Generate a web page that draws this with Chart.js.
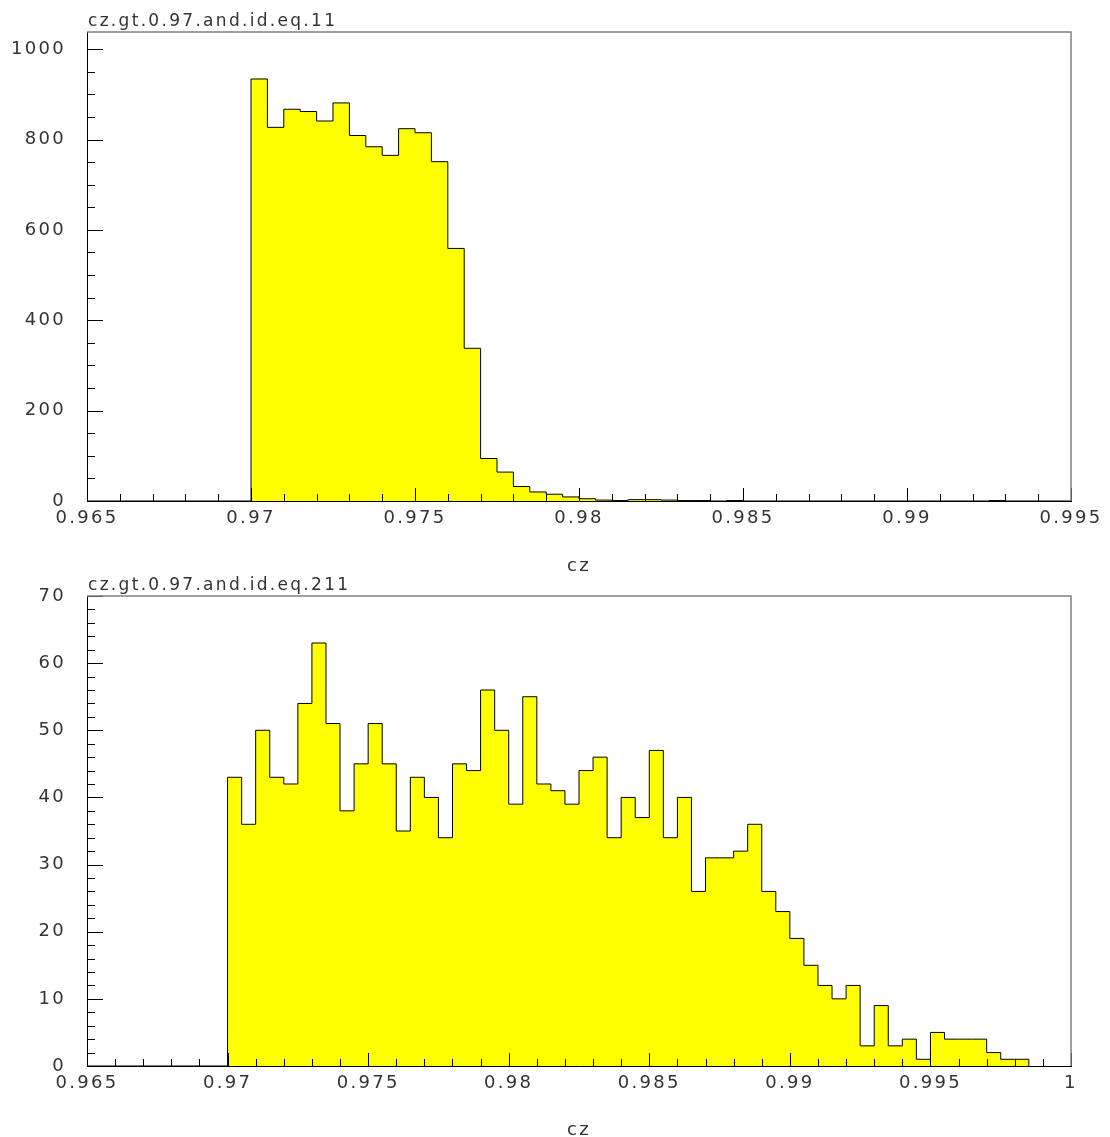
<!DOCTYPE html>
<html lang="en">
<head>
<meta charset="UTF-8">
<title>cz</title>
<script src="https://cdn.jsdelivr.net/npm/chart.js"></script>
<style>
  html, body { margin: 0; padding: 0; background: #fff; overflow: hidden; }
  canvas { display: block; position: absolute; left: 0; }
  #histo11 { top: 0; }
  #histo211 { top: 568px; }
</style>
</head>
<body>
<canvas id="histo11" width="1110" height="580"></canvas>
<canvas id="histo211" width="1110" height="573"></canvas>
<script>
// both histograms: bins of 0.0005 in cz, filled from cz = 0.97 upwards
const binWidth = 0.0005;
const firstEdge = 0.97;

// id 11
const counts11 = [934, 827, 867, 862, 841, 881, 809, 784, 765, 824,
                  815, 751, 559, 338, 94, 64, 32, 20, 15, 9,
                  5, 2, 1, 3, 3, 2, 1, 1, 0, 1,
                  0, 0, 0, 0, 0, 0, 0, 0, 0, 0,
                  0, 0, 0, 0, 0, 1, 0, 0, 0, 0];
const xTicks11 = [0.965, 0.97, 0.975, 0.98, 0.985, 0.99, 0.995];
const yTicks11 = [0, 200, 400, 600, 800, 1000];
const yMax11 = 1038;

// id 211
const counts211 = [43, 36, 50, 43, 42, 54, 63, 51, 38, 45,
                   51, 45, 35, 43, 40, 34, 45, 44, 56, 50,
                   39, 55, 42, 41, 39, 44, 46, 34, 40, 37,
                   47, 34, 40, 26, 31, 31, 32, 36, 26, 23,
                   19, 15, 12, 10, 12, 3, 9, 3, 4, 1,
                   5, 4, 4, 4, 2, 1, 1];
const xTicks211 = [0.965, 0.97, 0.975, 0.98, 0.985, 0.99, 0.995, 1];
const yTicks211 = [0, 10, 20, 30, 40, 50, 60, 70];
const yMax211 = 70;

Chart.defaults.font.family = "'DejaVu Sans', sans-serif";
Chart.defaults.font.size = 18;
Chart.defaults.color = '#333';

// outline points for a stepped line: left edge of each bin, closed back to zero
function histoPoints(counts, axisMin) {
    const pts = [{ x: axisMin, y: 0 }];
    counts.forEach((c, i) => pts.push({ x: firstEdge + i * binWidth, y: c }));
    pts.push({ x: firstEdge + counts.length * binWidth, y: 0 });
    return pts;
}

// inward tick marks, grey top/right frame and the histogram title
const framePlugin = {
    id: 'frame',
    beforeUpdate(chart) { chart.ctx.letterSpacing = '2.3px'; },
    beforeDraw(chart) { chart.ctx.letterSpacing = '2.3px'; },
    afterDatasetsDraw(chart, args, opts) {
        const { ctx, chartArea: a, scales: { x, y } } = chart;
        ctx.save();
        ctx.strokeStyle = '#000';
        ctx.lineWidth = 1;
        ctx.beginPath();
        for (let k = 0; ; k++) {
            const v = x.min + k * opts.xMinor;
            if (v > x.max + 1e-9) break;
            const px = Math.round(x.getPixelForValue(v)) + 0.5;
            const len = k % opts.xEvery === 0 ? 13 : 7;
            ctx.moveTo(px, a.bottom);
            ctx.lineTo(px, a.bottom - len);
        }
        for (let k = 0; ; k++) {
            const v = y.min + k * opts.yMinor;
            if (v > y.max + 1e-9) break;
            const py = Math.round(y.getPixelForValue(v)) + 0.5;
            const len = k % opts.yEvery === 0 ? 16 : 8;
            ctx.moveTo(a.left, py);
            ctx.lineTo(a.left + len, py);
        }
        ctx.stroke();

        ctx.strokeStyle = '#808080';
        ctx.lineWidth = 1.5;
        ctx.beginPath();
        ctx.moveTo(a.left, a.top);
        ctx.lineTo(a.right, a.top);
        ctx.lineTo(a.right, a.bottom);
        ctx.stroke();

        ctx.fillStyle = '#333';
        ctx.font = "17px 'DejaVu Sans', sans-serif";
        ctx.textAlign = 'left';
        ctx.textBaseline = 'alphabetic';
        ctx.fillText(opts.title, a.left + 1, a.top - 6);
        ctx.restore();
    }
};

function makeHisto(id, counts, xTicks, yTicks, yMax, frame, pad, axisHeight, titlePad) {
    const ctx = document.getElementById(id).getContext('2d');
    return new Chart(ctx, {
        type: 'line',
        data: {
            datasets: [{
                data: histoPoints(counts, xTicks[0]),
                stepped: 'before',
                borderColor: '#000',
                borderWidth: 1,
                backgroundColor: '#ffff00',
                fill: 'origin',
                pointRadius: 0,
                tension: 0
            }]
        },
        options: {
            responsive: false,
            animation: false,
            devicePixelRatio: 1,
            layout: { padding: pad },
            plugins: {
                legend: { display: false },
                tooltip: { enabled: false },
                frame: frame
            },
            scales: {
                x: {
                    type: 'linear',
                    min: xTicks[0],
                    max: xTicks[xTicks.length - 1],
                    afterFit: s => {
                        s.height = axisHeight;
                        s.paddingLeft = 0;
                        s.paddingRight = 0;
                    },
                    afterBuildTicks: s => { s.ticks = xTicks.map(v => ({ value: v })); },
                    grid: { display: false, drawTicks: false },
                    border: { display: true, color: '#000', width: 1 },
                    ticks: { padding: 7, maxRotation: 0, autoSkip: false, callback: v => String(v) },
                    title: { display: true, text: 'cz', color: '#333', padding: { top: 0, bottom: titlePad } }
                },
                y: {
                    min: 0,
                    max: yMax,
                    afterFit: s => {
                        s.width = 87;
                        s.paddingTop = 0;
                        s.paddingBottom = 0;
                    },
                    afterBuildTicks: s => { s.ticks = yTicks.map(v => ({ value: v })); },
                    grid: { display: false, drawTicks: false },
                    border: { display: true, color: '#000', width: 1 },
                    ticks: { padding: 21, callback: v => String(v) }
                }
            }
        },
        plugins: [framePlugin]
    });
}

makeHisto('histo11', counts11, xTicks11, yTicks11, yMax11,
    { title: 'cz.gt.0.97.and.id.eq.11', xMinor: 0.001, xEvery: 5, yMinor: 50, yEvery: 4 },
    { top: 32, right: 39, left: 0, bottom: 0 }, 79, 3);

makeHisto('histo211', counts211, xTicks211, yTicks211, yMax211,
    { title: 'cz.gt.0.97.and.id.eq.211', xMinor: 0.001, xEvery: 5, yMinor: 2, yEvery: 5 },
    { top: 28, right: 39, left: 0, bottom: 0 }, 75, 0);
</script>
</body>
</html>
